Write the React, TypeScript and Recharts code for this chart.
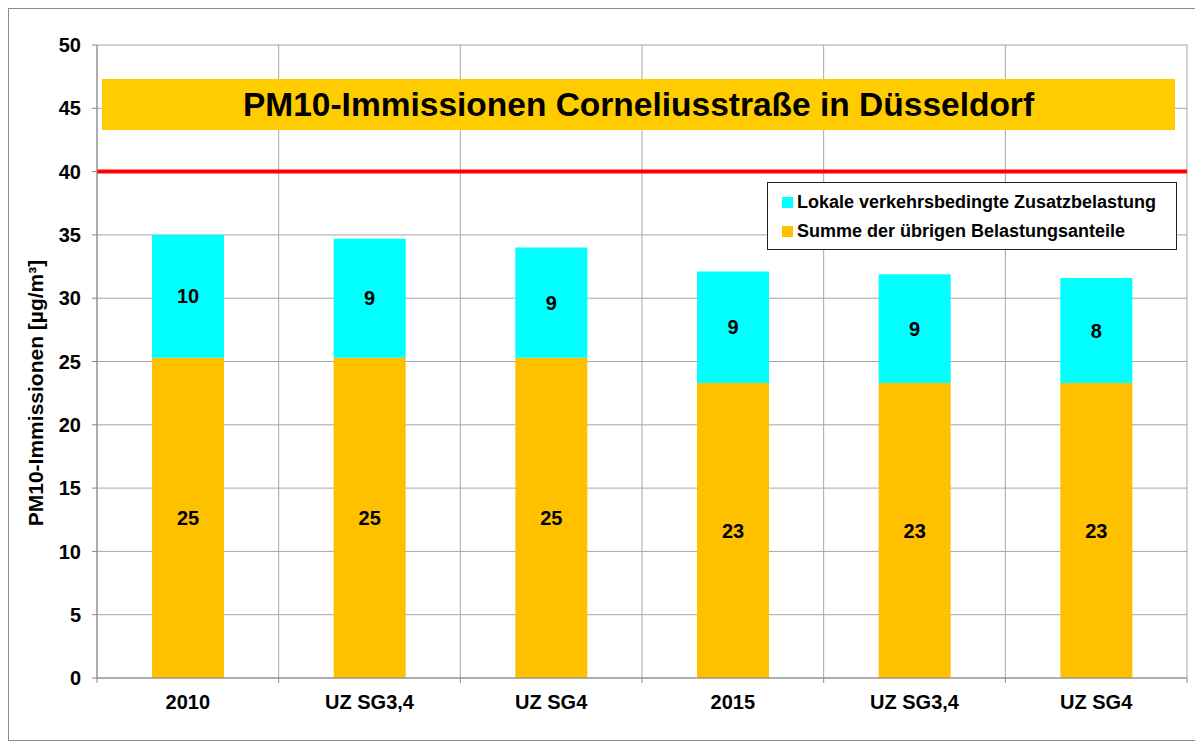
import { BarChart, Bar, XAxis, YAxis, CartesianGrid, ReferenceLine, LabelList } from 'recharts'

const categories = ['2010', 'UZ SG3,4', 'UZ SG4', '2015', 'UZ SG3,4', 'UZ SG4']
const background = [25.3, 25.3, 25.3, 23.3, 23.3, 23.3]
const traffic = [9.7, 9.4, 8.7, 8.8, 8.6, 8.3]
const yTicks = [0, 5, 10, 15, 20, 25, 30, 35, 40, 45, 50]
const limitValue = 40
const seriesNames = ['Lokale verkehrsbedingte Zusatzbelastung', 'Summe der übrigen Belastungsanteile']
const seriesColors = ['#00FFFF', '#FFC000']

const FONT = '"Liberation Sans", Arial, Helvetica, sans-serif'
const W = 1186
const H = 731
const PLOT_LEFT = 88
const PLOT_RIGHT = 1178
const PLOT_TOP = 36
const PLOT_BOTTOM = 669
const BAND = (PLOT_RIGHT - PLOT_LEFT) / categories.length

const data = categories.map((c, i) => ({
  label: c,
  rest: background[i],
  lokal: traffic[i],
}))

function XTick(props: any) {
  const { x, index, payload } = props
  const last = index === categories.length - 1
  return (
    <g>
      <line x1={x - BAND / 2} x2={x - BAND / 2} y1={PLOT_BOTTOM} y2={PLOT_BOTTOM + 5} stroke="#888" />
      {last && <line x1={x + BAND / 2} x2={x + BAND / 2} y1={PLOT_BOTTOM} y2={PLOT_BOTTOM + 5} stroke="#888" />}
      <text x={x} y={PLOT_BOTTOM + 31} textAnchor="middle" fontSize={20} fontWeight="bold" fill="#000" fontFamily={FONT}>
        {payload.value}
      </text>
    </g>
  )
}

function LegendBox() {
  return (
    <div
      style={{
        position: 'absolute',
        left: 758,
        top: 173,
        width: 410,
        height: 68,
        border: '1px solid #222',
        background: '#fff',
        padding: '5px 0 0 14px',
        fontFamily: FONT,
        fontWeight: 'bold',
        fontSize: 18,
        boxSizing: 'border-box',
      }}
    >
      {seriesNames.map((name, i) => (
        <div key={name} style={{ display: 'flex', alignItems: 'center', height: 29, whiteSpace: 'nowrap' }}>
          <span style={{ width: 11, height: 11, background: seriesColors[i], marginRight: 4, display: 'inline-block' }} />
          <span>{name}</span>
        </div>
      ))}
    </div>
  )
}

export default function App() {
  return (
    <div
      style={{
        position: 'relative',
        width: W,
        height: H,
        border: '1px solid #8c8c8c',
        fontFamily: FONT,
      }}
    >
      <BarChart
        width={W}
        height={H}
        data={data}
        margin={{ top: PLOT_TOP, right: W - PLOT_RIGHT, left: 0, bottom: 0 }}
      >
        <CartesianGrid
          stroke="#a6a6a6"
          verticalCoordinatesGenerator={({ offset }: any) =>
            categories.map((_, i) => offset.left + (i * offset.width) / categories.length).concat(offset.left + offset.width)
          }
        />
        <XAxis
          dataKey="label"
          height={H - PLOT_BOTTOM}
          axisLine={{ stroke: '#888' }}
          tickLine={false}
          tick={<XTick />}
          interval={0}
        />
        <YAxis
          width={PLOT_LEFT}
          domain={[0, 50]}
          ticks={yTicks}
          interval={0}
          axisLine={{ stroke: '#888' }}
          tickLine={{ stroke: '#888' }}
          tickSize={5}
          tickMargin={11}
          tick={{ fontSize: 20, fontWeight: 'bold', fill: '#000', fontFamily: FONT }}
          label={{
            content: () => (
              <text
                x={26}
                y={384}
                transform="rotate(-90 26 384)"
                textAnchor="middle"
                dominantBaseline="central"
                fontSize={21}
                fontWeight="bold"
                fill="#000"
                fontFamily={FONT}
              >
                PM10-Immissionen [µg/m³]
              </text>
            ),
          }}
        />
        <Bar dataKey="rest" name={seriesNames[1]} stackId="a" fill={seriesColors[1]} isAnimationActive={false} barSize={72}>
          <LabelList
            dataKey="rest"
            position="center"
            formatter={(v: any) => Math.round(Number(v))}
            style={{ fontSize: 20, fontWeight: 'bold', fill: '#000', fontFamily: FONT }}
          />
        </Bar>
        <Bar dataKey="lokal" name={seriesNames[0]} stackId="a" fill={seriesColors[0]} isAnimationActive={false} barSize={72}>
          <LabelList
            dataKey="lokal"
            position="center"
            formatter={(v: any) => Math.round(Number(v))}
            style={{ fontSize: 20, fontWeight: 'bold', fill: '#000', fontFamily: FONT }}
          />
        </Bar>
        <ReferenceLine y={limitValue} stroke="#FF0000" strokeWidth={4} />
      </BarChart>
      <LegendBox />
      <div
        style={{
          position: 'absolute',
          left: 93,
          top: 70,
          width: 1073,
          height: 51,
          background: '#FFCC00',
          display: 'flex',
          alignItems: 'center',
          justifyContent: 'center',
          fontFamily: FONT,
          fontWeight: 'bold',
          fontSize: 33.5,
          color: '#000',
        }}
      >
        PM10-Immissionen Corneliusstraße in Düsseldorf
      </div>
    </div>
  )
}
